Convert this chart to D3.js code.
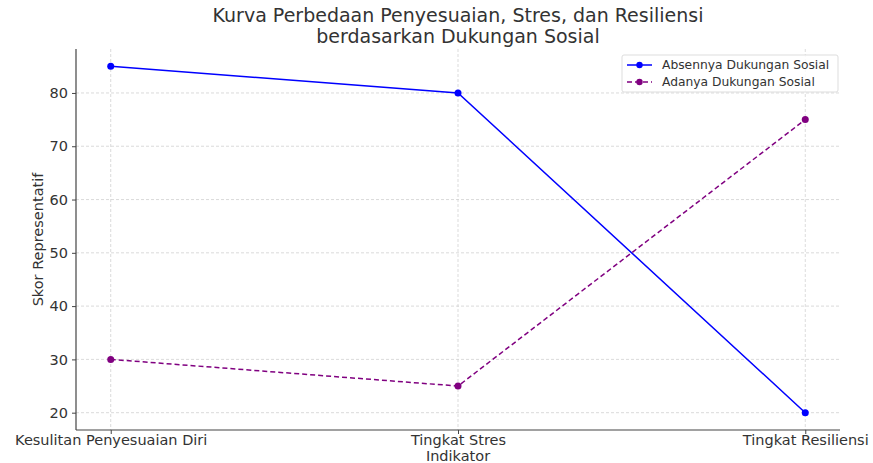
<!DOCTYPE html>
<html lang="id">
<head>
<meta charset="UTF-8">
<title>Kurva Perbedaan</title>
<script src="https://d3js.org/d3.v7.min.js"></script>
<style>
  body { margin: 0; background: #fff; }
  text { font-family: "DejaVu Sans", sans-serif; fill: #333; }
</style>
</head>
<body>
<div id="chart"></div>
<script>
const categories = ["Kesulitan Penyesuaian Diri", "Tingkat Stres", "Tingkat Resiliensi"];
const absenValues = [85, 80, 20];
const adaValues = [30, 25, 75];
const yTicks = [20, 30, 40, 50, 60, 70, 80];
const seriesNames = ["Absennya Dukungan Sosial", "Adanya Dukungan Sosial"];

const W = 873, H = 463;
const m = { left: 76, right: 33, top: 49, bottom: 33 };

const svg = d3.select("#chart").append("svg")
  .attr("width", W).attr("height", H);

const x = d3.scaleLinear().domain([-0.1, 2.1]).range([m.left, W - m.right]);
const y = d3.scaleLinear().domain([16.75, 88.25]).range([H - m.bottom, m.top]);

// grid
svg.append("g").selectAll("line").data(yTicks).join("line")
  .attr("x1", m.left).attr("x2", W - m.right)
  .attr("y1", d => y(d)).attr("y2", d => y(d))
  .attr("stroke", "#ccc").attr("stroke-width", 0.7).attr("stroke-dasharray", "3,2");
svg.append("g").selectAll("line").data(categories).join("line")
  .attr("x1", (d, i) => x(i)).attr("x2", (d, i) => x(i))
  .attr("y1", m.top).attr("y2", H - m.bottom)
  .attr("stroke", "#ccc").attr("stroke-width", 0.7).attr("stroke-dasharray", "3,2");

// axes
const yAxis = svg.append("g").attr("transform", `translate(${m.left},0)`)
  .call(d3.axisLeft(y).tickValues(yTicks).tickSize(4).tickPadding(4));
const xAxis = svg.append("g").attr("transform", `translate(0,${H - m.bottom})`)
  .call(d3.axisBottom(x).tickValues([0, 1, 2]).tickFormat(i => categories[i]).tickSize(4).tickPadding(1));
[yAxis, xAxis].forEach(a => {
  a.select(".domain").attr("stroke", "#444").attr("stroke-width", 1.2);
  a.selectAll(".tick line").attr("stroke", "#444");
  a.selectAll(".tick text").attr("font-size", 14.5).attr("fill", "#333")
    .attr("font-family", "DejaVu Sans, sans-serif");
});
// matplotlib-style: y spine ends at axis box top
yAxis.select(".domain").attr("d", `M0,${H - m.bottom}V${m.top}`);
xAxis.select(".domain").attr("d", `M${m.left},0H${W - m.right}`);

// lines
const line = d3.line().x((d, i) => x(i)).y(d => y(d));
const series = [
  { name: seriesNames[0], values: absenValues, color: "#0000ff", dash: null },
  { name: seriesNames[1], values: adaValues, color: "#800080", dash: "5,3" }
];
series.forEach(s => {
  svg.append("path").datum(s.values)
    .attr("d", line).attr("fill", "none")
    .attr("stroke", s.color).attr("stroke-width", 1.5)
    .attr("stroke-dasharray", s.dash);
  svg.append("g").selectAll("circle").data(s.values).join("circle")
    .attr("cx", (d, i) => x(i)).attr("cy", d => y(d)).attr("r", 3.5)
    .attr("fill", s.color);
});

// title
svg.append("text").attr("x", (m.left + W - m.right) / 2).attr("y", 22)
  .attr("text-anchor", "middle").attr("font-size", 19).text("Kurva Perbedaan Penyesuaian, Stres, dan Resiliensi");
svg.append("text").attr("x", (m.left + W - m.right) / 2).attr("y", 43)
  .attr("text-anchor", "middle").attr("font-size", 19).text("berdasarkan Dukungan Sosial");

// axis labels
svg.append("text").attr("x", (m.left + W - m.right) / 2).attr("y", 461)
  .attr("text-anchor", "middle").attr("font-size", 14.5).text("Indikator");
svg.append("text").attr("transform", `translate(43,${(m.top + H - m.bottom) / 2}) rotate(-90)`)
  .attr("text-anchor", "middle").attr("font-size", 14.5).text("Skor Representatif");

// legend
const lg = svg.append("g").attr("transform", "translate(622,55)");
lg.append("rect").attr("width", 216).attr("height", 37).attr("rx", 2)
  .attr("fill", "#fff").attr("fill-opacity", 0.8).attr("stroke", "#ddd");
series.forEach((s, i) => {
  const yy = 10 + i * 17;
  lg.append("line").attr("x1", 5).attr("x2", 30).attr("y1", yy).attr("y2", yy)
    .attr("stroke", s.color).attr("stroke-width", 1.5).attr("stroke-dasharray", s.dash);
  lg.append("circle").attr("cx", 17.5).attr("cy", yy).attr("r", 3.2).attr("fill", s.color);
  lg.append("text").attr("x", 40).attr("y", yy + 4).attr("font-size", 12.3).text(s.name);
});
</script>
</body>
</html>
